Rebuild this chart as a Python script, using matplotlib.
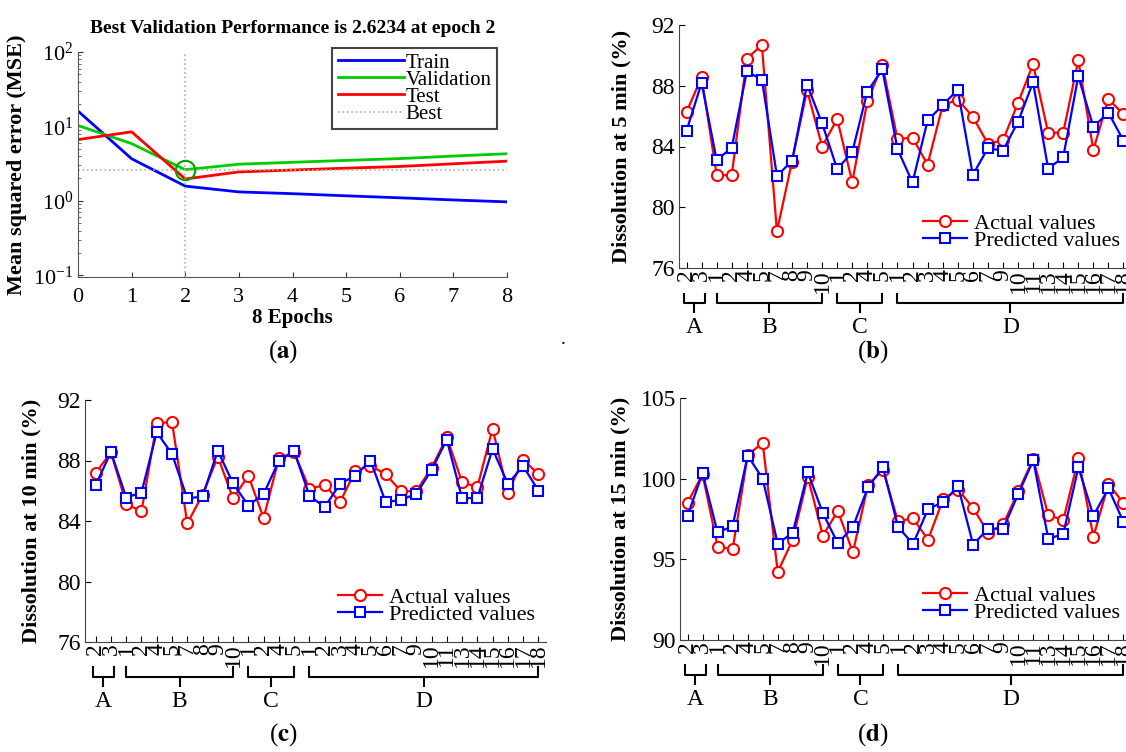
import numpy as np
import matplotlib
matplotlib.use("Agg")
import matplotlib.pyplot as plt

plt.rcParams['font.family'] = ['Liberation Serif', 'DejaVu Serif']
plt.rcParams['mathtext.fontset'] = 'stix'

# (a) training performance
epochs = [0, 1, 2, 3, 4, 5, 6, 7, 8]
mse_train = [16.1, 3.68, 1.58, 1.32, 1.25, 1.17, 1.10, 1.03, 0.97]
mse_val = [10.3, 5.88, 2.6234, 3.11, 3.3, 3.5, 3.7, 4.0, 4.3]
mse_test = [6.66, 8.47, 1.97, 2.45, 2.6, 2.75, 2.9, 3.15, 3.42]
best_epoch = 2
best_perf = 2.6234

# (b)-(d) dissolution, actual vs predicted
sample_labels = ['2', '3',
                 '1', '2', '4', '5', '7', '8', '9', '10',
                 '1', '2', '4', '5',
                 '1', '2', '3', '4', '5', '6', '7', '9', '10', '11',
                 '13', '14', '15', '16', '17', '18']
groups = ['A', 'B', 'C', 'D']
group_spans = [(-0.2, 1.2), (2, 9), (10, 13), (14, 29)]

act5 = [86.27, 88.56, 82.11, 82.11, 89.78, 90.68, 78.41, 83.01, 87.7, 84.0,
        85.81, 81.65, 86.98, 89.36, 84.49, 84.58, 82.81, 86.71, 87.09, 85.96,
        84.18, 84.40, 86.87, 89.42, 84.91, 84.91, 89.69, 83.78, 87.13, 86.12]
pred5 = [85.04, 88.19, 83.10, 83.92, 88.94, 88.41, 82.07, 83.04, 88.08, 85.52,
         82.51, 83.63, 87.62, 89.07, 83.83, 81.63, 85.72, 86.71, 87.75, 82.13,
         83.89, 83.72, 85.63, 88.23, 82.55, 83.28, 88.63, 85.30, 86.23, 84.38]

act10 = [87.18, 88.54, 85.13, 84.63, 90.46, 90.55, 83.84, 85.73, 88.26, 85.49,
         87.0, 84.19, 88.15, 88.54, 86.12, 86.39, 85.24, 87.29, 87.66, 87.09,
         85.97, 85.97, 87.51, 89.54, 86.57, 86.23, 90.11, 85.86, 88.06, 87.09]
pred10 = [86.37, 88.57, 85.55, 85.88, 89.87, 88.43, 85.49, 85.62, 88.65, 86.48,
          85.02, 85.79, 87.97, 88.61, 85.68, 84.91, 86.45, 87.0, 88.0, 85.24,
          85.40, 85.79, 87.36, 89.38, 85.51, 85.51, 88.77, 86.45, 87.64, 86.01]

act15 = [98.51, 100.27, 95.79, 95.62, 101.45, 102.23, 94.21, 96.22, 100.12, 96.47,
         98.0, 95.43, 99.59, 100.56, 97.36, 97.54, 96.22, 98.72, 99.32, 98.18,
         96.63, 97.17, 99.21, 101.22, 97.73, 97.44, 101.26, 96.4, 99.69, 98.47]
pred15 = [97.69, 100.35, 96.67, 97.05, 101.43, 100.0, 95.97, 96.65, 100.39, 97.87,
          95.99, 97.0, 99.46, 100.7, 97.02, 95.95, 98.12, 98.55, 99.52, 95.91,
          96.9, 96.9, 99.05, 101.14, 96.26, 96.59, 100.7, 97.71, 99.4, 97.31]

W, H = 1126, 752


def rect(l, t, r, b):
    return [l / W, 1 - b / H, (r - l) / W, (b - t) / H]


fig = plt.figure(figsize=(W / 100, H / 100), dpi=100)

# ---- panel (a)
ax = fig.add_axes(rect(78, 52, 507, 277))
ax.semilogy(epochs, mse_train, color='#0000ff', lw=2, label='Train')
ax.semilogy(epochs, mse_val, color='#00cc00', lw=2, label='Validation')
ax.semilogy(epochs, mse_test, color='#ff0000', lw=2, label='Test')
ax.axhline(best_perf, color='#a0bca0', ls=':', lw=1.2, label='Best')
ax.axvline(best_epoch, color='#a0bca0', ls=':', lw=1.2)
ax.plot(best_epoch, best_perf, 'o', mfc='none', mec='#00a000', ms=14, mew=1.5)
ax.set_xlim(0, 8)
ax.set_ylim(0.095, 100)
ax.set_xticks(epochs)
for s in ['top', 'right']:
    ax.spines[s].set_visible(False)
ax.spines['left'].set_color('#555555')
ax.spines['bottom'].set_color('#555555')
ax.tick_params(direction='in', labelsize=16, colors='#333333', labelcolor='black')
ax.tick_params(axis='x', pad=8)
ax.tick_params(which='minor', direction='in', colors='#555555')
ax.set_title('Best Validation Performance is 2.6234 at epoch 2', fontsize=14,
             fontweight='bold', pad=14)
ax.set_xlabel('8 Epochs', fontsize=15, fontweight='bold', labelpad=1)
ax.set_ylabel('Mean squared error (MSE)', fontsize=16, fontweight='bold', labelpad=4)
leg = ax.legend(loc='upper right', bbox_to_anchor=(1.0, 1.065), fontsize=15,
                handlelength=3.2, handletextpad=0.05, labelspacing=-0.12,
                borderpad=0.25, fancybox=False, framealpha=1)
leg.get_frame().set_edgecolor('#444444')
leg.get_frame().set_linewidth(1.5)


def dissolution(box, act, pred, ylim, yticks, ylabel, xlo, lpad):
    ax = fig.add_axes(rect(*box))
    x = np.arange(len(act))
    ax.plot(x, act, '-o', color='#ff0000', mfc='white', mec='#ff0000', ms=8,
            mew=1.5, lw=1.6, label='Actual values')
    ax.plot(x, pred, '-s', color='#0000ff', mfc='white', mec='#0000ff', ms=7,
            mew=1.5, lw=1.6, label='Predicted values')
    ax.set_xlim(xlo, 29.5)
    ax.set_ylim(*ylim)
    ax.set_yticks(yticks)
    ax.set_xticks(x)
    ax.set_xticklabels(sample_labels, rotation=90, fontsize=17)
    for s in ['top', 'right']:
        ax.spines[s].set_visible(False)
    ax.spines['left'].set_color('#444444')
    ax.spines['bottom'].set_color('#444444')
    ax.tick_params(axis='y', direction='in', labelsize=17, length=4, pad=3)
    ax.tick_params(axis='x', direction='in', length=4, pad=1)
    ax.set_ylabel(ylabel, fontsize=16, fontweight='bold', labelpad=lpad)
    ax.legend(loc='lower right', bbox_to_anchor=(1.0, 0.025), frameon=False,
              fontsize=16, handlelength=2.0, handletextpad=0.3,
              labelspacing=-0.15, borderpad=0)
    tr = ax.get_xaxis_transform()
    for g, (a, b) in zip(groups, group_spans):
        m = (a + b) / 2
        ax.plot([a, a, b, b], [-0.105, -0.145, -0.145, -0.105], color='black',
                lw=1.5, transform=tr, clip_on=False)
        ax.plot([m, m], [-0.145, -0.18], color='black', lw=1.5, transform=tr,
                clip_on=False)
        ax.text(m, -0.245, g, transform=tr, ha='center', va='center', fontsize=17)
    return ax


dissolution((679, 25, 1131, 268), act5, pred5, (76, 92), [76, 80, 84, 88, 92],
            'Dissolution at 5 min (%)', -0.5, 14)
dissolution((85, 400, 546, 642), act10, pred10, (76, 92), [76, 80, 84, 88, 92],
            'Dissolution at 10 min (%)', -0.7, 11)
dissolution((680, 398, 1131, 640), act15, pred15, (90, 105), [90, 95, 100, 105],
            'Dissolution at 15 min (%)', -0.5, 7)

for lab, xp, yp in [('a', 283, 352), ('b', 873, 352), ('c', 283, 735), ('d', 873, 735)]:
    fig.text(xp / W, 1 - yp / H, '(' + r'$\mathbf{' + lab + '}$' + ')',
             ha='center', va='center', fontsize=18)
fig.text(563 / W, 1 - 340 / H, '.', ha='center', va='center', fontsize=14)

fig.savefig('out.png', dpi=100)
